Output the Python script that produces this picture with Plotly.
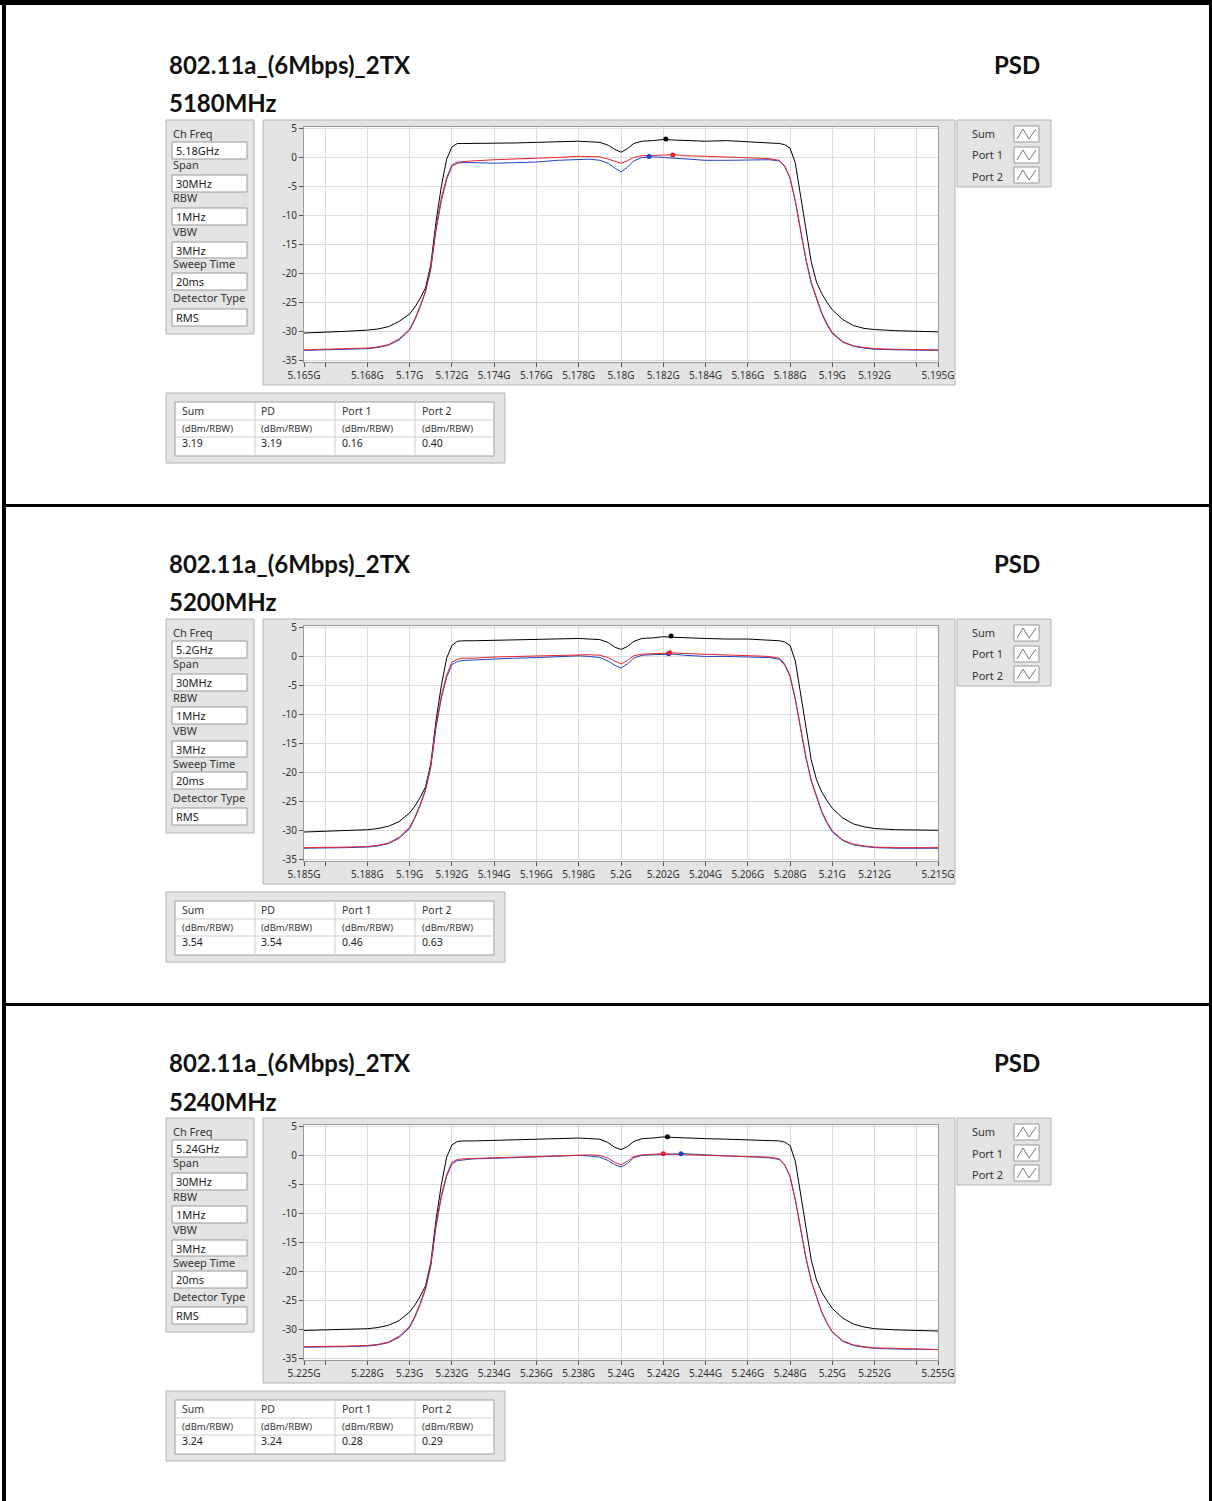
import plotly.graph_objects as go

# ---------------- data ----------------
offset_mhz = [-15, -14, -13, -12, -11.5, -11, -10.5, -10, -9.75, -9.5, -9.25, -9, -8.75, -8.5, -8.25, -8,
              -7.75, -7.5, -7, -6, -5, -4, -3, -2, -1.5, -1, -0.6, -0.3, 0, 0.3, 0.6, 1, 1.5, 2, 2.5, 3,
              4, 5, 6, 7, 7.5, 7.75, 8, 8.25, 8.5, 8.75, 9, 9.25, 9.5, 9.75, 10, 10.5, 11, 11.5, 12, 13, 14, 15]

centers_mhz = [5180, 5200, 5240]
titles = ["802.11a_(6Mbps)_2TX"] * 3
subtitles = ["5180MHz", "5200MHz", "5240MHz"]
ch_freq = ["5.18GHz", "5.2GHz", "5.24GHz"]
setting_labels = ["Ch Freq", "Span", "RBW", "VBW", "Sweep Time", "Detector Type"]
setting_values = ["30MHz", "1MHz", "3MHz", "20ms", "RMS"]

sum_1 = [-30.3, -30.2, -30.0, -29.8, -29.6, -29.2, -28.3, -27.0, -25.8, -24.3, -22.5, -18.5, -11.0, -5.0, -0.3, 1.8,
         2.4, 2.4, 2.4, 2.4, 2.5, 2.6, 2.7, 2.8, 2.7, 2.6, 2.1, 1.4, 0.9, 1.5, 2.4, 2.8, 2.9, 3.1, 3.0, 2.9,
         2.8, 2.9, 2.7, 2.5, 2.4, 2.2, 1.6, -1.0, -6.5, -12.5, -18.0, -21.5, -23.5, -25.0, -26.3, -28.0, -29.0, -29.5, -29.7, -29.9, -30.0, -30.1]
port2_1 = [-33.2, -33.1, -33.0, -32.9, -32.7, -32.3, -31.3, -29.6, -27.8, -25.6, -23.0, -19.0, -12.0, -7.0, -3.5, -1.3,
           -0.8, -0.7, -0.6, -0.4, -0.3, -0.1, 0.0, 0.2, 0.2, 0.1, -0.3, -0.7, -1.0, -0.6, 0.0, 0.3, 0.3, 0.4, 0.5, 0.3,
           0.2, 0.1, 0.0, -0.2, -0.5, -1.5, -3.5, -7.5, -12.5, -17.5, -21.5, -24.3, -26.8, -28.7, -30.2, -31.8, -32.5, -32.8, -33.0, -33.1, -33.1, -33.2]
port1_1 = [-33.3, -33.2, -33.1, -33.0, -32.8, -32.4, -31.5, -29.8, -28.0, -25.8, -23.2, -19.3, -12.5, -7.5, -3.8, -1.5,
           -1.0, -0.9, -0.9, -1.0, -0.9, -0.8, -0.5, -0.3, -0.3, -0.5, -1.0, -1.8, -2.5, -1.7, -0.6, 0.0, 0.1, 0.0, -0.1, -0.3,
           -0.5, -0.5, -0.4, -0.4, -0.6, -1.6, -3.6, -7.6, -12.7, -17.7, -21.7, -24.5, -27.0, -28.9, -30.4, -31.9, -32.6, -32.9, -33.1, -33.2, -33.2, -33.3]

sum_2 = [-30.3, -30.2, -30.1, -29.9, -29.7, -29.3, -28.5, -27.0, -25.8, -24.3, -22.5, -18.5, -11.0, -5.0, -0.3, 1.9,
         2.6, 2.7, 2.7, 2.8, 2.9, 2.9, 3.0, 3.1, 3.0, 2.9, 2.4, 1.6, 1.2, 1.7, 2.6, 3.1, 3.2, 3.4, 3.3, 3.2,
         3.1, 3.0, 3.0, 2.8, 2.7, 2.5, 1.9, -0.8, -6.3, -12.3, -17.8, -21.3, -23.4, -24.9, -26.2, -27.9, -28.9, -29.4, -29.7, -29.9, -30.0, -30.0]
port2_2 = [-33.0, -33.0, -32.9, -32.8, -32.6, -32.2, -31.2, -29.5, -27.7, -25.5, -22.9, -18.8, -11.8, -6.8, -3.2, -1.0,
           -0.5, -0.3, -0.3, -0.1, 0.0, 0.1, 0.2, 0.3, 0.3, 0.2, -0.2, -0.8, -1.3, -0.7, 0.1, 0.4, 0.5, 0.6, 0.6, 0.5,
           0.4, 0.3, 0.2, 0.0, -0.3, -1.3, -3.3, -7.3, -12.3, -17.3, -21.3, -24.2, -26.7, -28.6, -30.1, -31.7, -32.4, -32.7, -32.9, -33.0, -33.0, -33.0]
port1_2 = [-33.1, -33.1, -33.0, -32.9, -32.7, -32.3, -31.4, -29.7, -27.9, -25.7, -23.1, -19.1, -12.2, -7.2, -3.6, -1.4,
           -0.9, -0.7, -0.6, -0.5, -0.3, -0.2, 0.0, 0.1, 0.0, -0.2, -0.8, -1.5, -2.0, -1.3, -0.3, 0.2, 0.3, 0.4, 0.4, 0.2,
           0.0, 0.0, -0.1, -0.2, -0.5, -1.5, -3.5, -7.5, -12.5, -17.5, -21.5, -24.4, -26.9, -28.8, -30.3, -31.8, -32.5, -32.8, -33.0, -33.1, -33.1, -33.1]

sum_3 = [-30.2, -30.1, -30.0, -29.9, -29.7, -29.3, -28.5, -27.0, -25.8, -24.3, -22.5, -18.5, -11.0, -5.0, -0.3, 1.8,
         2.4, 2.5, 2.5, 2.6, 2.7, 2.8, 2.9, 3.0, 2.9, 2.8, 2.2, 1.4, 1.0, 1.5, 2.4, 2.9, 3.0, 3.2, 3.1, 3.0,
         2.9, 2.8, 2.7, 2.6, 2.5, 2.3, 1.7, -1.0, -6.5, -12.5, -18.0, -21.5, -23.6, -25.1, -26.4, -28.1, -29.1, -29.6, -29.9, -30.1, -30.2, -30.3]
port2_3 = [-33.0, -33.0, -32.9, -32.8, -32.6, -32.2, -31.2, -29.5, -27.7, -25.5, -22.9, -18.8, -11.8, -6.8, -3.3, -1.2,
           -0.7, -0.6, -0.5, -0.4, -0.3, -0.2, 0.0, 0.1, 0.1, 0.0, -0.5, -1.2, -1.6, -1.0, -0.2, 0.1, 0.2, 0.3, 0.2, 0.1,
           0.0, -0.1, -0.2, -0.3, -0.6, -1.6, -3.6, -7.6, -12.6, -17.6, -21.6, -24.5, -27.0, -28.9, -30.4, -32.0, -32.7, -33.0, -33.2, -33.3, -33.4, -33.5]
port1_3 = [-33.1, -33.1, -33.0, -32.9, -32.7, -32.3, -31.4, -29.7, -27.9, -25.7, -23.1, -19.1, -12.2, -7.2, -3.6, -1.5,
           -0.9, -0.8, -0.6, -0.5, -0.4, -0.3, -0.2, 0.0, -0.1, -0.3, -0.9, -1.6, -2.0, -1.4, -0.4, 0.0, 0.1, 0.2, 0.2, 0.3,
           0.1, -0.1, -0.2, -0.4, -0.7, -1.7, -3.7, -7.7, -12.7, -17.7, -21.7, -24.6, -27.1, -29.0, -30.5, -32.1, -32.8, -33.1, -33.3, -33.4, -33.5, -33.5]

sum_series = [sum_1, sum_2, sum_3]
port1_series = [port1_1, port1_2, port1_3]
port2_series = [port2_1, port2_2, port2_3]

# peak markers (offset MHz, value dBm)
sum_peak_off = [2.12, 2.37, 2.2]
port1_peak_off = [1.33, 2.25, 2.84]
port2_peak_off = [2.45, 2.3, 2.0]
sum_peak = [3.19, 3.54, 3.24]
pd_peak = [3.19, 3.54, 3.24]
port1_peak = [0.16, 0.46, 0.28]
port2_peak = [0.40, 0.63, 0.29]

tick_off = [-15, -14, -12, -10, -8, -6, -4, -2, 0, 2, 4, 6, 8, 10, 12, 14, 15]
tick_labels = [
    ["5.165G", "", "5.168G", "5.17G", "5.172G", "5.174G", "5.176G", "5.178G", "5.18G", "5.182G", "5.184G",
     "5.186G", "5.188G", "5.19G", "5.192G", "", "5.195G"],
    ["5.185G", "", "5.188G", "5.19G", "5.192G", "5.194G", "5.196G", "5.198G", "5.2G", "5.202G", "5.204G",
     "5.206G", "5.208G", "5.21G", "5.212G", "", "5.215G"],
    ["5.225G", "", "5.228G", "5.23G", "5.232G", "5.234G", "5.236G", "5.238G", "5.24G", "5.242G", "5.244G",
     "5.246G", "5.248G", "5.25G", "5.252G", "", "5.255G"],
]
y_ticks = [5, 0, -5, -10, -15, -20, -25, -30, -35]
legend_names = ["Sum", "Port 1", "Port 2"]
table_headers = ["Sum", "PD", "Port 1", "Port 2"]
table_unit = "(dBm/RBW)"

for arr in sum_series + port1_series + port2_series:
    assert len(arr) == len(offset_mhz), len(arr)

# ---------------- helpers ----------------
W, H = 1212, 1501
def px(x):
    return x / W
def py(y):
    return 1 - y / H

LABEL_FONT = "Noto Sans"
TITLE_FONT = "Lato"
COL_SUM = "#000000"
COL_P1 = "#1f45c8"
COL_P2 = "#e5222b"

fig = go.Figure()
shapes = []
annotations = []

def rect(x0, y0, x1, y1, fill, line=None, lw=1):
    shapes.append(dict(type="rect", xref="paper", yref="paper", x0=px(x0), x1=px(x1), y0=py(y1), y1=py(y0),
                       fillcolor=fill, line=dict(color=line or fill, width=lw if line else 0), layer="below"))

def hline(x0, x1, y, color, w=1):
    shapes.append(dict(type="line", xref="paper", yref="paper", x0=px(x0), x1=px(x1), y0=py(y), y1=py(y),
                       line=dict(color=color, width=w), layer="below"))

def vline(x, y0, y1, color, w=1):
    shapes.append(dict(type="line", xref="paper", yref="paper", x0=px(x), x1=px(x), y0=py(y0), y1=py(y1),
                       line=dict(color=color, width=w), layer="below"))

def text(x, y, s, size=11, family=LABEL_FONT, color="#222222", anchor="left", bold=False):
    annotations.append(dict(xref="paper", yref="paper", x=px(x), y=py(y), text=f"<b>{s}</b>" if bold else s,
                            showarrow=False, xanchor=anchor, yanchor="middle",
                            font=dict(family=family, size=size, color=color), borderpad=0))

DY = 499
PLOT_L, PLOT_R = 304, 938
PLOT_T, PLOT_B = 127, 362

layout_axes = {}
for k in range(3):
    oy = k * DY
    c = centers_mhz[k]
    xs = [c + o for o in offset_mhz]
    xa = "x" if k == 0 else f"x{k+1}"
    ya = "y" if k == 0 else f"y{k+1}"

    # titles
    text(168, 64 + oy, titles[k], size=24, family=TITLE_FONT, color="#111111", bold=True)
    text(1041, 64 + oy, "PSD", size=24, family=TITLE_FONT, color="#111111", anchor="right", bold=True)
    text(168, 103 + oy, subtitles[k], size=24, family=TITLE_FONT, color="#111111", bold=True)

    # settings panel
    rect(166, 120 + oy, 254, 334 + oy, "#e4e4e4", "#b4b4b4")
    label_y = [133, 164, 198, 231, 264, 298]
    field_y = [(142, 159), (175, 192), (208, 225), (242, 258), (273, 290), (309, 326)]
    vals = [ch_freq[k]] + setting_values
    for i in range(6):
        text(172, label_y[i] + oy, setting_labels[i], size=11, color="#333333")
        fy0, fy1 = field_y[i]
        rect(172, fy0 + oy, 247, fy1 + oy, "#ffffff", "#9a9a9a")
        text(175, (fy0 + fy1) / 2 + oy, vals[i], size=11, color="#222222")

    # graph panel
    rect(263, 120 + oy, 955, 385 + oy, "#e4e4e4", "#b4b4b4")
    rect(PLOT_L, PLOT_T + oy, PLOT_R, PLOT_B + oy, "#ffffff")

    # legend panel
    rect(957, 120 + oy, 1051, 187 + oy, "#e4e4e4", "#b4b4b4")
    for i, (ly, gy0, gy1) in enumerate([(133, 126, 142), (155, 147, 163), (176, 167, 183)]):
        text(971, ly + oy, legend_names[i], size=11, color="#333333")
        rect(1014, gy0 + oy, 1039, gy1 + oy, "#ffffff", "#9a9a9a")
        y_lo, y_hi = gy1 - 3 + oy, gy0 + 3 + oy
        path = (f"M {px(1017)},{py(y_lo)} L {px(1023)},{py(y_hi)} L {px(1029)},{py(y_lo)} "
                f"L {px(1036)},{py(y_hi)}")
        shapes.append(dict(type="path", xref="paper", yref="paper", path=path,
                           line=dict(color="#777777", width=1), layer="above"))

    # table panel
    rect(166, 393 + oy, 505, 463 + oy, "#e4e4e4", "#b4b4b4")
    rect(175, 402 + oy, 494, 456 + oy, "#ffffff", "#a0a0a0")
    for xv in [255, 335, 415]:
        vline(xv, 402 + oy, 456 + oy, "#cfcfcf")
    for yv in [420, 437]:
        hline(175, 494, yv + oy, "#cfcfcf")
    col_x = [181, 260, 341, 421]
    row_vals = [sum_peak[k], pd_peak[k], port1_peak[k], port2_peak[k]]
    for j in range(4):
        text(col_x[j], 411 + oy, table_headers[j], size=10.5, color="#333333")
        text(col_x[j], 428 + oy, table_unit, size=9.5, color="#333333")
        text(col_x[j], 443 + oy, f"{row_vals[j]:.2f}", size=10.5, color="#222222")

    # traces
    fig.add_trace(go.Scatter(x=xs, y=sum_series[k], mode="lines", line=dict(color=COL_SUM, width=1),
                             xaxis=xa, yaxis=ya, showlegend=False, name="Sum"))
    fig.add_trace(go.Scatter(x=xs, y=port1_series[k], mode="lines", line=dict(color=COL_P1, width=1),
                             xaxis=xa, yaxis=ya, showlegend=False, name="Port 1"))
    fig.add_trace(go.Scatter(x=xs, y=port2_series[k], mode="lines", line=dict(color=COL_P2, width=1),
                             xaxis=xa, yaxis=ya, showlegend=False, name="Port 2"))
    for off, val, col in [(sum_peak_off[k], sum_peak[k], COL_SUM),
                          (port1_peak_off[k], port1_peak[k], COL_P1),
                          (port2_peak_off[k], port2_peak[k], COL_P2)]:
        fig.add_trace(go.Scatter(x=[c + off], y=[val], mode="markers", marker=dict(color=col, size=5),
                                 xaxis=xa, yaxis=ya, showlegend=False))

    xkey = "xaxis" if k == 0 else f"xaxis{k+1}"
    ykey = "yaxis" if k == 0 else f"yaxis{k+1}"
    layout_axes[xkey] = dict(
        domain=[px(PLOT_L), px(PLOT_R)], anchor=ya, range=[c - 15, c + 15], automargin=False,
        tickvals=[c + t for t in tick_off], ticktext=tick_labels[k],
        ticks="outside", ticklen=4, tickcolor="#555555", tickfont=dict(family=LABEL_FONT, size=10, color="#333333"),
        showgrid=True, gridcolor="#dcdcdc", gridwidth=1, zeroline=False,
        showline=True, linecolor="#9a9a9a", linewidth=1, mirror=True, fixedrange=True)
    layout_axes[ykey] = dict(
        domain=[py(PLOT_B + oy), py(PLOT_T + oy)], anchor=xa, range=[-35.3, 5.25], automargin=False,
        tickvals=y_ticks, ticktext=[str(v) for v in y_ticks],
        ticks="outside", ticklen=4, tickcolor="#555555", tickfont=dict(family=LABEL_FONT, size=10, color="#333333"),
        showgrid=True, gridcolor="#dcdcdc", gridwidth=1, zeroline=False,
        showline=True, linecolor="#9a9a9a", linewidth=1, mirror=True, fixedrange=True)

# outer frame and separators
rect(0, 0, 1212, 5, "#000000")
rect(2, 0, 6, 1501, "#000000")
rect(1209, 0, 1212, 1501, "#000000")
rect(2, 504, 1212, 507, "#000000")
rect(2, 1003, 1212, 1006, "#000000")

fig.update_layout(
    width=W, height=H, margin=dict(l=0, r=0, t=0, b=0, pad=0, autoexpand=False),
    paper_bgcolor="#ffffff", plot_bgcolor="#ffffff",
    shapes=shapes, annotations=annotations, showlegend=False,
    **layout_axes,
)

fig.write_html("out.html", config={"displayModeBar": False},
               post_script="document.body.style.margin='0';document.body.style.overflow='hidden';")
